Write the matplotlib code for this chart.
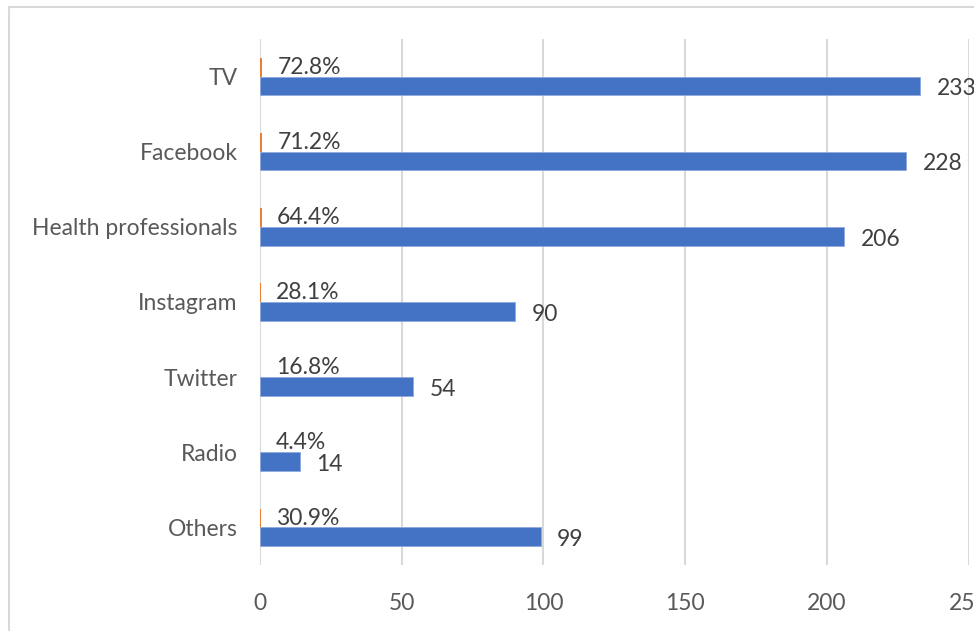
import matplotlib.pyplot as plt
from matplotlib.patches import Rectangle

# data
categories = ["TV", "Facebook", "Health professionals", "Instagram", "Twitter", "Radio", "Others"]
counts = [233, 228, 206, 90, 54, 14, 99]
shares = [0.728, 0.712, 0.644, 0.281, 0.168, 0.044, 0.309]
x_ticks = [0, 50, 100, 150, 200, 250]

blue = "#4472C4"
orange = "#ED7D31"
grid_col = "#D9D9D9"

plt.rcParams['font.family'] = ['Lato', 'DejaVu Sans']

fig = plt.figure(figsize=(9.74, 6.31), dpi=100)
W, H = 974, 631
ax = fig.add_axes([260 / W, 1 - 565 / H, (968.5 - 260) / W, (565 - 39) / H])

# outer chart border (cropped on right and bottom)
fig.patches.append(Rectangle((9 / W, -0.1), 1.2, 1 - 7 / H + 0.1, transform=fig.transFigure,
                             fill=False, edgecolor="#D9D9D9", lw=1.5))

pos = list(range(len(categories)))
h = 0.25
fs = 16.5
ax.barh([p - h / 2 for p in pos], shares, height=h, color=orange, zorder=3)
ax.barh([p + h / 2 for p in pos], counts, height=h, color=blue, edgecolor="#8FAADC",
        linewidth=0.6, zorder=3)

for p, s, c in zip(pos, shares, counts):
    ax.annotate(f"{s * 100:.1f}%", (s, p - h / 2), xytext=(11, 0), textcoords="offset points",
                va="center", ha="left", fontsize=fs, color="#404040", clip_on=False)
    ax.annotate(f"{c}", (c, p + h / 2), xytext=(12, -2), textcoords="offset points",
                va="center", ha="left", fontsize=fs, color="#404040", clip_on=False)

ax.set_xlim(0, 250)
ax.set_ylim(len(categories) - 0.5, -0.5)
ax.set_xticks(x_ticks)
ax.set_yticks(pos)
ax.set_yticklabels(categories)
ax.tick_params(axis="both", length=0, labelsize=fs, labelcolor="#595959")
ax.tick_params(axis="y", pad=16)
ax.tick_params(axis="x", pad=20)
ax.grid(axis="x", color=grid_col, lw=1.5, zorder=0)
for sp in ax.spines.values():
    sp.set_visible(False)

fig.savefig("out.png", dpi=100)
